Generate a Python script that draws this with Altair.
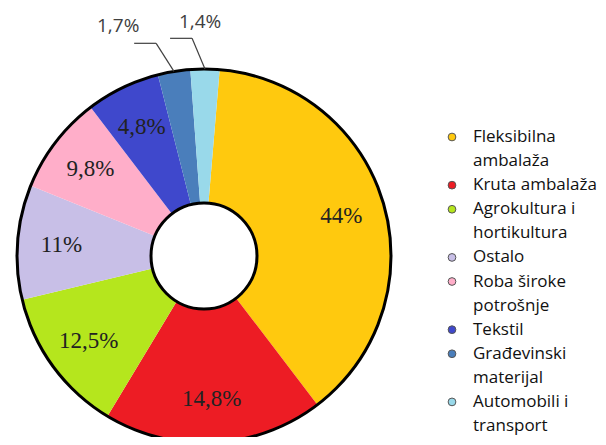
import math
import altair as alt
import pandas as pd

# ---- data ----
categories = ["Fleksibilna ambalaža", "Kruta ambalaža", "Agrokultura i hortikultura",
              "Ostalo", "Roba široke potrošnje", "Tekstil",
              "Građevinski materijal", "Automobili i transport"]
legend_lines = [["Fleksibilna", "ambalaža"], ["Kruta ambalaža"],
                ["Agrokultura i", "hortikultura"], ["Ostalo"],
                ["Roba široke", "potrošnje"], ["Tekstil"],
                ["Građevinski", "materijal"], ["Automobili i", "transport"]]
labels = ["44%", "14,8%", "12,5%", "11%", "9,8%", "4,8%", "1,7%", "1,4%"]
# share of the circle each slice occupies in the picture (percent of 360°)
shares = [38.3, 19.0, 12.6, 9.9, 8.5, 6.4, 2.8, 2.5]
colors = ["#FFC90E", "#ED1C24", "#B5E61D", "#C8BFE7",
          "#FFAEC9", "#3F48CC", "#4A7EBB", "#99D9EA"]

# ---- layout constants ----
CX, CY = 196, 248
R_OUT, R_IN = 187, 53
OFF = 0.0838  # rotation of the first slice, radians

df = pd.DataFrame({"idx": list(range(len(categories))), "cat": categories,
                   "share": shares, "label": labels, "color": colors})

rows = []
r = 0
for i, lines in enumerate(legend_lines):
    for j, t in enumerate(lines):
        rows.append({"row": r, "text": t, "first": j == 0, "color": colors[i]})
        r += 1
leg = pd.DataFrame(rows)
nrows = r

tscale = alt.Scale(domain=[0, 100], range=[OFF, OFF + 2 * math.pi])

base = alt.Chart(df).transform_window(
    cum="sum(share)", sort=[alt.SortField("idx")], frame=[None, 0]
).transform_calculate(
    start="datum.cum - datum.share",
    mid="datum.cum - datum.share / 2",
)

arcs = base.mark_arc(radius=R_OUT, radius2=R_IN).encode(
    theta=alt.Theta("start:Q", scale=tscale, stack=None),
    theta2="cum:Q",
    fill=alt.Fill("color:N", scale=None),
    x=alt.value(CX), y=alt.value(CY),
)

ring = alt.Chart(pd.DataFrame({"k": [0]})).mark_arc(
    theta=0, theta2=2 * math.pi, radius=R_OUT, radius2=R_IN,
    filled=False, stroke="black", strokeWidth=3,
).encode(x=alt.value(CX), y=alt.value(CY))

inside = base.transform_filter("datum.idx < 6").mark_text(
    radius=143, font="Liberation Serif", fontSize=23, color="#222222",
).encode(
    theta=alt.Theta("mid:Q", scale=tscale, stack=None),
    text="label:N",
    x=alt.value(CX), y=alt.value(CY),
)

lead = base.transform_filter("datum.idx >= 6").transform_calculate(
    ang=f"{OFF} + 2 * PI * datum.mid / 100",
).transform_calculate(
    x1=f"{CX} + {R_OUT} * sin(datum.ang)",
    y1=f"{CY} - {R_OUT} * cos(datum.ang)",
    xe=f"{CX} + 218 * sin(datum.ang - 0.06)",
    ye=f"{CY} - 218 * cos(datum.ang - 0.06)",
).transform_calculate(
    x3="datum.xe - 22",
)

seg1 = lead.mark_rule(color="#404040", strokeWidth=1.2).encode(
    x=alt.X("x1:Q", scale=None), y=alt.Y("y1:Q", scale=None),
    x2="xe:Q", y2="ye:Q",
)
seg2 = lead.mark_rule(color="#404040", strokeWidth=1.2).encode(
    x=alt.X("xe:Q", scale=None), y=alt.Y("ye:Q", scale=None),
    x2="x3:Q", y2="ye:Q",
)
out17 = lead.transform_filter("datum.idx == 6").mark_text(
    font="Open Sans", fontSize=19, color="#404040", dx=-16, dy=-17,
).encode(x=alt.X("x3:Q", scale=None), y=alt.Y("ye:Q", scale=None), text="label:N")
out14 = lead.transform_filter("datum.idx == 7").mark_text(
    font="Open Sans", fontSize=19, color="#404040", dx=30, dy=-16,
).encode(x=alt.X("x3:Q", scale=None), y=alt.Y("ye:Q", scale=None), text="label:N")

yleg = alt.Scale(domain=[0, nrows - 1], range=[129, 418])
legbase = alt.Chart(leg)
sym = legbase.transform_filter("datum.first").mark_point(
    filled=True, size=60, stroke="#555555", strokeWidth=1, opacity=1,
).encode(
    x=alt.value(444),
    y=alt.Y("row:Q", scale=yleg, axis=None),
    fill=alt.Fill("color:N", scale=None),
)
legtxt = legbase.mark_text(
    align="left", baseline="middle", font="Open Sans", fontSize=17, color="#111111",
).encode(
    x=alt.value(465),
    y=alt.Y("row:Q", scale=yleg, axis=None),
    text="text:N",
)

chart = alt.layer(
    arcs, ring, inside, seg1, seg2, out17, out14, sym, legtxt
).resolve_scale(x="independent", y="independent").properties(
    width=590, height=429, padding=0, autosize="none",
).configure_view(stroke=None)

chart.save("out.html", embed_options={"renderer": "svg", "actions": False})
